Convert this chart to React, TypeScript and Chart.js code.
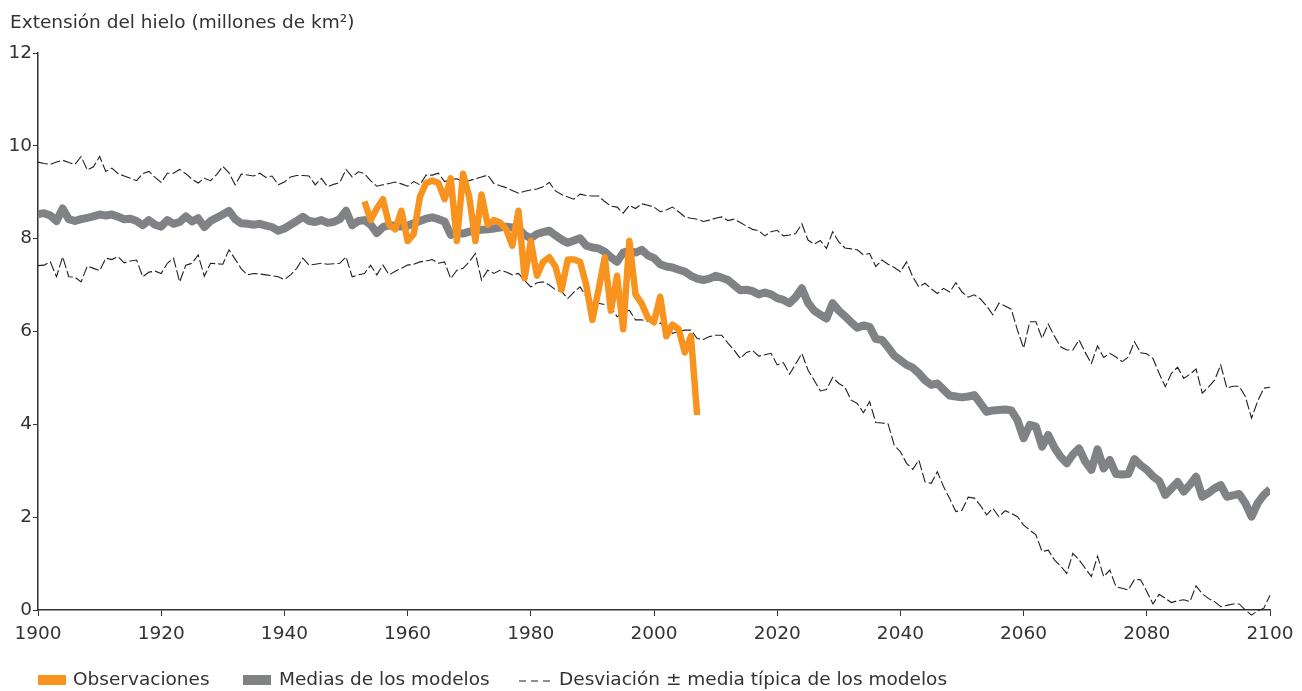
import React, { useEffect, useRef } from "react";
import { Chart, registerables } from "chart.js";

Chart.register(...registerables);

// ---------- Data ----------
const MODEL_START_YEAR = 1900;
const OBS_START_YEAR = 1953;

const xTickValues = [1900, 1920, 1940, 1960, 1980, 2000, 2020, 2040, 2060, 2080, 2100];
const yTickValues = [0, 2, 4, 6, 8, 10, 12];

const titleText = "Extensión del hielo (millones de km²)";
const legendObs = "Observaciones";
const legendMean = "Medias de los modelos";
const legendStd = "Desviación ± media típica de los modelos";

// Observations 1953–2007
const observations = [
  8.8, 8.4, 8.65, 8.85, 8.3, 8.2, 8.6, 7.95, 8.1, 8.9,
  9.2, 9.25, 9.2, 8.85, 9.3, 7.95, 9.4, 8.9, 7.95, 8.95,
  8.3, 8.4, 8.35, 8.2, 7.85, 8.6, 7.15, 7.95, 7.2, 7.5,
  7.6, 7.4, 6.9, 7.55, 7.55, 7.5, 7.0, 6.25, 6.9, 7.6,
  6.45, 7.2, 6.05, 7.95, 6.8, 6.6, 6.3, 6.2, 6.75, 5.9,
  6.15, 6.05, 5.55, 5.9, 4.2,
];

// Model mean 1900–2100
const modelMean = [
  8.53, 8.55, 8.5, 8.38, 8.65, 8.42, 8.38, 8.42, 8.45, 8.48,
  8.52, 8.5, 8.52, 8.47, 8.42, 8.43, 8.38, 8.29, 8.4, 8.3,
  8.26, 8.4, 8.32, 8.36, 8.48, 8.37, 8.44, 8.25, 8.38, 8.45,
  8.52, 8.6, 8.42, 8.33, 8.32, 8.3, 8.32, 8.28, 8.25, 8.17,
  8.22, 8.3, 8.38, 8.47, 8.38, 8.36, 8.4, 8.34, 8.36, 8.42,
  8.6, 8.29, 8.38, 8.4, 8.3, 8.12, 8.25, 8.29, 8.28, 8.26,
  8.28, 8.33, 8.38, 8.43, 8.46, 8.42, 8.37, 8.08, 8.12, 8.11,
  8.15, 8.18, 8.19, 8.2, 8.22, 8.24, 8.26, 8.24, 8.22, 8.08,
  8.01, 8.1, 8.14, 8.17, 8.07, 7.98, 7.91, 7.96, 8.01, 7.85,
  7.81, 7.79, 7.72, 7.6, 7.5, 7.7, 7.74, 7.7, 7.76, 7.64,
  7.58, 7.45, 7.4, 7.38, 7.33, 7.29, 7.2, 7.14, 7.11, 7.14,
  7.2, 7.16, 7.11, 7.0, 6.89, 6.9, 6.87, 6.8, 6.84, 6.8,
  6.72, 6.68, 6.61, 6.74, 6.93, 6.62, 6.45, 6.36, 6.28, 6.61,
  6.45, 6.33, 6.2, 6.08, 6.13, 6.1, 5.84, 5.82, 5.66, 5.48,
  5.38, 5.28, 5.22, 5.1, 4.95, 4.85, 4.88, 4.75, 4.62, 4.6,
  4.58, 4.6, 4.63, 4.45, 4.27, 4.3, 4.31, 4.32, 4.3, 4.09,
  3.7, 3.99, 3.95, 3.52, 3.77, 3.5, 3.3, 3.16, 3.35, 3.48,
  3.2, 3.02, 3.46, 3.05, 3.23, 2.93, 2.92, 2.93, 3.25, 3.12,
  3.02, 2.88, 2.78, 2.48, 2.62, 2.76, 2.55, 2.7, 2.87, 2.44,
  2.52, 2.62, 2.69, 2.44, 2.47, 2.5, 2.3, 2.01, 2.3, 2.48,
  2.6,
];

// Mean + standard deviation 1900–2100
const upperStd = [
  9.65, 9.62, 9.6, 9.65, 9.69, 9.64, 9.6, 9.77, 9.48, 9.55,
  9.77, 9.45, 9.52, 9.4, 9.35, 9.3, 9.25, 9.4, 9.45, 9.32,
  9.21, 9.41, 9.41, 9.49, 9.4, 9.28, 9.2, 9.3, 9.25, 9.38,
  9.56, 9.42, 9.16, 9.39, 9.37, 9.35, 9.41, 9.32, 9.35, 9.16,
  9.22, 9.33, 9.36, 9.36, 9.35, 9.16, 9.3, 9.12, 9.17, 9.21,
  9.49, 9.33, 9.44, 9.4, 9.25, 9.13, 9.16, 9.19, 9.22, 9.18,
  9.13, 9.23, 9.16, 9.37, 9.37, 9.41, 9.23, 9.27, 9.29, 9.23,
  9.25, 9.29, 9.33, 9.37, 9.19, 9.14, 9.1, 9.04, 8.98, 9.02,
  9.05, 9.07, 9.12, 9.21, 9.03, 8.95, 8.9, 8.85, 8.96, 8.93,
  8.92, 8.92, 8.8, 8.7, 8.68, 8.55, 8.72, 8.65, 8.75, 8.72,
  8.68, 8.58, 8.62, 8.68, 8.58, 8.47, 8.44, 8.42, 8.37, 8.4,
  8.44, 8.47, 8.39, 8.42, 8.35, 8.27, 8.2, 8.17, 8.06, 8.15,
  8.18, 8.06, 8.08, 8.11, 8.32, 7.97, 7.88, 7.96, 7.79, 8.15,
  7.93, 7.8, 7.78, 7.76, 7.65, 7.68, 7.4, 7.54, 7.45, 7.38,
  7.29, 7.5, 7.18, 6.96, 7.04, 6.92, 6.82, 6.93, 6.85, 7.05,
  6.85, 6.74, 6.79, 6.7, 6.55, 6.36, 6.61, 6.55, 6.48, 6.03,
  5.64, 6.21, 6.21, 5.85, 6.16, 5.9, 5.67, 5.6, 5.6, 5.82,
  5.55, 5.31, 5.69, 5.44, 5.53, 5.45, 5.35, 5.45, 5.78, 5.54,
  5.52, 5.42, 5.1, 4.81, 5.1, 5.23, 4.99, 5.08, 5.19, 4.67,
  4.8, 4.95, 5.28, 4.78, 4.82, 4.82, 4.6, 4.13, 4.5, 4.78,
  4.8,
];

// Mean - standard deviation 1900–2100
const lowerStd = [
  7.42, 7.43, 7.5, 7.18, 7.61, 7.18, 7.17, 7.07, 7.41, 7.36,
  7.31, 7.58, 7.55, 7.61, 7.48, 7.52, 7.54, 7.18, 7.28, 7.3,
  7.25, 7.47, 7.58, 7.07, 7.43, 7.47, 7.65, 7.19, 7.47, 7.46,
  7.45, 7.76, 7.56, 7.35, 7.22, 7.25, 7.24, 7.22, 7.2, 7.18,
  7.12, 7.22, 7.36, 7.58, 7.43, 7.45, 7.47, 7.45, 7.46, 7.47,
  7.61, 7.18, 7.22, 7.25, 7.43, 7.22, 7.43, 7.22, 7.3, 7.36,
  7.43, 7.45, 7.5, 7.52, 7.55, 7.47, 7.5, 7.14, 7.32, 7.36,
  7.5, 7.68, 7.11, 7.32, 7.25, 7.32, 7.28, 7.22, 7.25, 7.1,
  6.96, 7.05, 7.07, 7.0, 6.9, 6.86, 6.71, 6.85, 6.96, 6.75,
  6.64, 6.61, 6.58, 6.53, 6.32, 6.4, 6.46, 6.25, 6.25, 6.22,
  6.2, 6.18, 6.08, 5.96, 6.0, 6.03, 6.03, 5.85, 5.83, 5.89,
  5.92, 5.92, 5.75, 5.6, 5.42, 5.55, 5.59, 5.47, 5.5, 5.53,
  5.28, 5.33, 5.08, 5.3, 5.53, 5.17, 4.95, 4.72, 4.75, 5.01,
  4.88, 4.8, 4.52, 4.45, 4.25, 4.49, 4.04, 4.03, 4.01, 3.55,
  3.41, 3.16, 3.03, 3.23, 2.76, 2.73, 2.98, 2.66, 2.4, 2.12,
  2.15, 2.43, 2.41, 2.25, 2.05, 2.19, 2.01, 2.14, 2.08, 2.01,
  1.83, 1.72, 1.62, 1.26, 1.29, 1.08, 0.95, 0.79, 1.22, 1.08,
  0.9, 0.72, 1.16, 0.72, 0.86, 0.5, 0.47, 0.43, 0.66, 0.65,
  0.4, 0.13, 0.34, 0.25, 0.16, 0.2, 0.22, 0.18, 0.52, 0.35,
  0.25, 0.18, 0.07, 0.1, 0.13, 0.13, 0.0, -0.11, -0.02, 0.04,
  0.32,
];

// ---------- Styles ----------
const FONT = '"DejaVu Sans", Verdana, sans-serif';
const FONT_SIZE = 18.5;
const TEXT_COLOR = "#333333";
const AXIS_COLOR = "#333333";
const OBS_COLOR = "#f7931e";
const MEAN_COLOR = "#808285";
const STD_COLOR = "#231f20";

const toPoints = (start: number, values: number[]) =>
  values.map((v, i) => ({ x: start + i, y: v }));

export default function App() {
  const canvasRef = useRef<HTMLCanvasElement | null>(null);

  useEffect(() => {
    if (!canvasRef.current) return;
    const chart = new Chart(canvasRef.current, {
      type: "line",
      data: {
        datasets: [
          {
            label: legendObs,
            data: toPoints(OBS_START_YEAR, observations),
            borderColor: OBS_COLOR,
            borderWidth: 6.5,
            pointRadius: 0,
            tension: 0,
            borderJoinStyle: "round",
            fill: false,
            order: 0,
          },
          {
            label: legendMean,
            data: toPoints(MODEL_START_YEAR, modelMean),
            borderColor: MEAN_COLOR,
            borderWidth: 8,
            pointRadius: 0,
            tension: 0,
            borderJoinStyle: "round",
            fill: false,
            order: 1,
          },
          {
            label: legendStd,
            data: toPoints(MODEL_START_YEAR, upperStd),
            borderColor: STD_COLOR,
            borderWidth: 1.1,
            borderDash: [10, 3],
            pointRadius: 0,
            tension: 0,
            fill: false,
            order: 2,
          },
          {
            label: legendStd + " (-)",
            data: toPoints(MODEL_START_YEAR, lowerStd),
            borderColor: STD_COLOR,
            borderWidth: 1.1,
            borderDash: [10, 3],
            pointRadius: 0,
            tension: 0,
            fill: false,
            clip: false as any,
            order: 2,
          },
        ],
      },
      options: {
        animation: false,
        responsive: false,
        maintainAspectRatio: false,
        layout: { padding: { left: 0, right: 32, top: 53, bottom: 0 } },
        plugins: {
          legend: { display: false },
          tooltip: { enabled: false },
          title: { display: false },
        },
        scales: {
          x: {
            type: "linear",
            min: xTickValues[0],
            max: xTickValues[xTickValues.length - 1],
            afterBuildTicks: (s: any) => {
              s.ticks = xTickValues.map((v) => ({ value: v }));
            },
            afterFit: (s: any) => {
              s.height = 81;
            },
            ticks: {
              autoSkip: false,
              maxRotation: 0,
              padding: 7,
              color: TEXT_COLOR,
              font: { family: FONT, size: FONT_SIZE },
              callback: (v: any) => String(v),
            },
            grid: {
              display: true,
              drawOnChartArea: false,
              drawTicks: true,
              tickLength: 6,
              color: AXIS_COLOR,
              lineWidth: 1,
            },
            border: { display: true, color: AXIS_COLOR, width: 1.5 },
          },
          y: {
            type: "linear",
            min: yTickValues[0],
            max: yTickValues[yTickValues.length - 1],
            afterBuildTicks: (s: any) => {
              s.ticks = yTickValues.map((v) => ({ value: v }));
            },
            afterFit: (s: any) => {
              s.width = 38;
            },
            ticks: {
              padding: 1,
              color: TEXT_COLOR,
              font: { family: FONT, size: FONT_SIZE },
              callback: (v: any) => String(v),
            },
            grid: {
              display: true,
              drawOnChartArea: false,
              drawTicks: true,
              tickLength: 5,
              color: AXIS_COLOR,
              lineWidth: 1,
            },
            border: { display: true, color: AXIS_COLOR, width: 1.5 },
          },
        },
      },
    });
    return () => chart.destroy();
  }, []);

  const textStyle: React.CSSProperties = {
    position: "absolute",
    fontFamily: FONT,
    fontSize: FONT_SIZE,
    lineHeight: "22px",
    color: TEXT_COLOR,
    whiteSpace: "nowrap",
  };

  return (
    <div
      style={{
        position: "absolute",
        left: 0,
        top: 0,
        width: 1302,
        height: 691,
        background: "#ffffff",
        overflow: "hidden",
      }}
    >
      <canvas
        ref={canvasRef}
        width={1302}
        height={691}
        style={{ position: "absolute", left: 0, top: 0, width: 1302, height: 691 }}
      />
      <div style={{ ...textStyle, left: 10, top: 11 }}>{titleText}</div>

      <div
        style={{
          position: "absolute",
          left: 38,
          top: 675,
          width: 28,
          height: 10,
          background: OBS_COLOR,
        }}
      />
      <div style={{ ...textStyle, left: 73, top: 668 }}>{legendObs}</div>

      <div
        style={{
          position: "absolute",
          left: 243,
          top: 675,
          width: 28,
          height: 10,
          background: MEAN_COLOR,
        }}
      />
      <div style={{ ...textStyle, left: 279, top: 668 }}>{legendMean}</div>

      <svg
        style={{ position: "absolute", left: 519, top: 677 }}
        width={34}
        height={8}
      >
        <line
          x1={0}
          y1={4}
          x2={34}
          y2={4}
          stroke={STD_COLOR}
          strokeWidth={1}
          strokeDasharray="7,5"
        />
      </svg>
      <div style={{ ...textStyle, left: 559, top: 668 }}>{legendStd}</div>
    </div>
  );
}
